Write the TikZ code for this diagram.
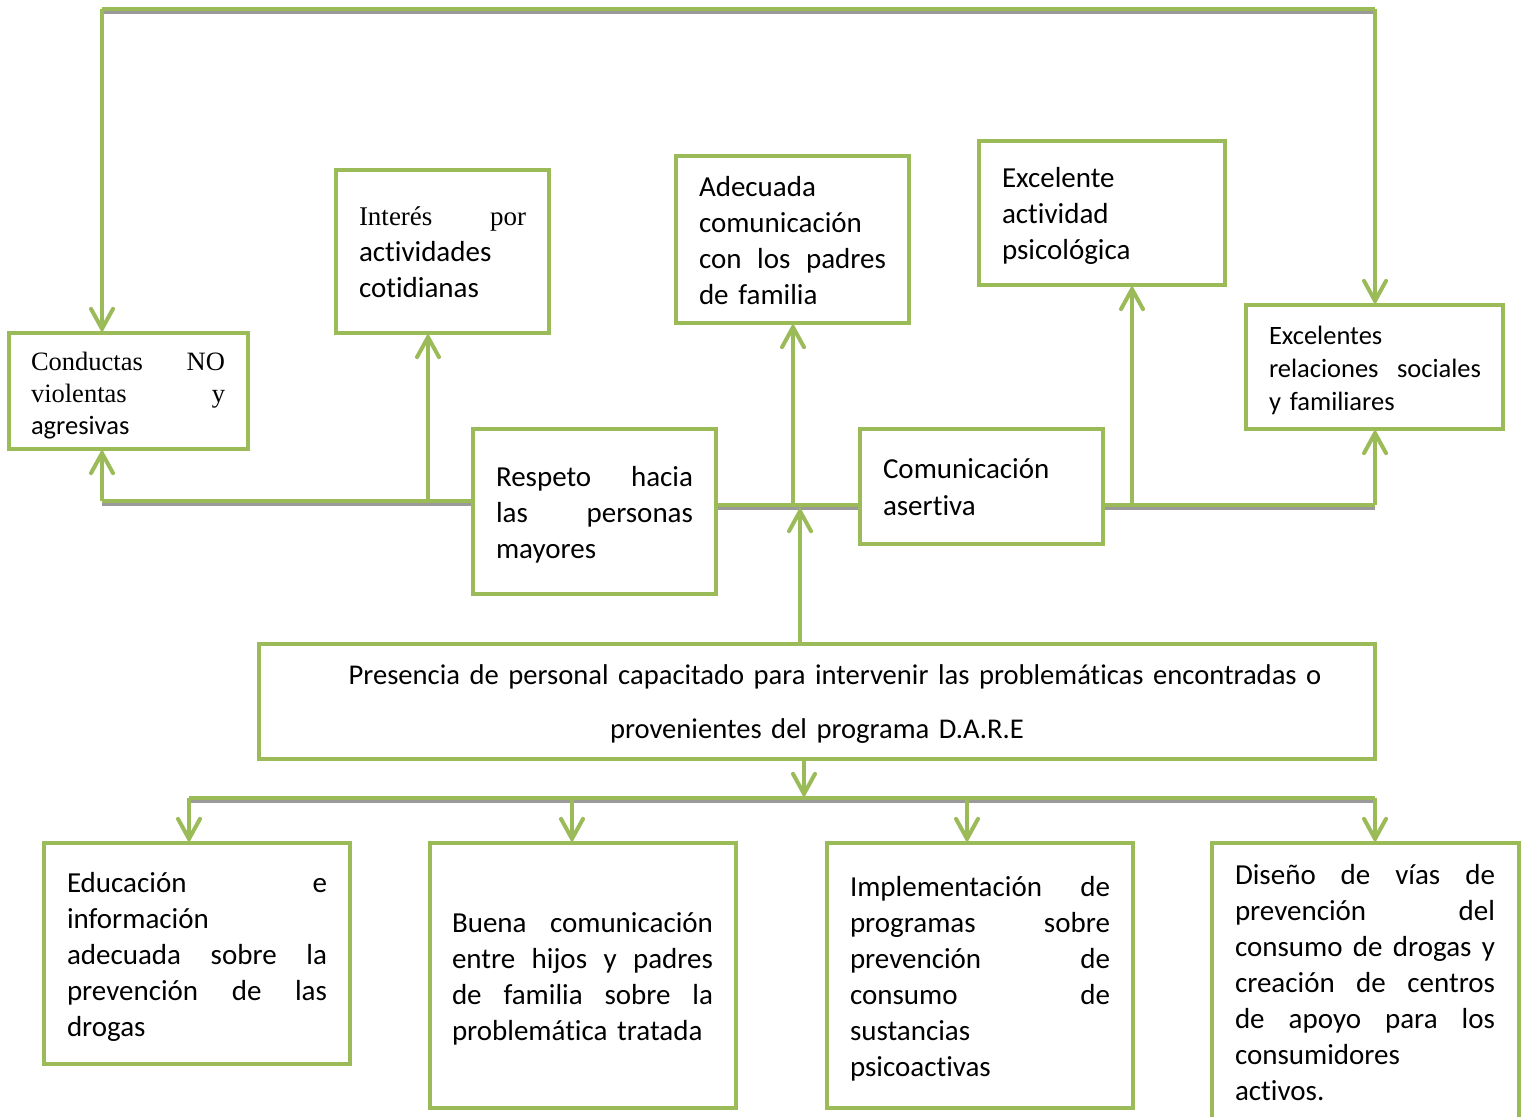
\documentclass[tikz,border=0pt]{standalone}
\usepackage{fontspec}
\setmainfont{Carlito}[RawFeature={-liga;-calt;-clig;-dlig}]
\newfontfamily\tnr{Liberation Serif}
\usetikzlibrary{arrows.meta}
\setlength{\parindent}{0pt}
\definecolor{lgreen}{HTML}{9BBB59}
\definecolor{shgray}{HTML}{9A9A9A}
\newcommand\fst{\rule{0pt}{24pt}}
\newcommand\tI{t\kern0pt i}
\tikzset{
  box/.style={draw=lgreen, line width=4pt, fill=white, rectangle, inner sep=0pt, outer sep=0pt, anchor=north west},
  txt/.style={anchor=north west, inner sep=0pt, outer sep=0pt, align=left, font=\fontsize{29}{36}\selectfont},
  conn/.style={draw=lgreen, line width=4pt},
  arr/.style={conn, -{Straight Barb[length=20pt, width=22pt, line cap=round]}},
  hline/.style={conn, preaction={draw=shgray, line width=4pt, transform canvas={yshift=-3pt}}},
}
\begin{document}
\begin{tikzpicture}[x=1pt, y=-1pt]
\useasboundingbox (0,0) rectangle (1525,1116);

% junction coordinates
\coordinate (topL) at (102,9);
\coordinate (topR) at (1375,9);
\coordinate (jL) at (102,501);
\coordinate (jI) at (428,501);
\coordinate (jM) at (793,505);
\coordinate (jP) at (800,507);
\coordinate (jE) at (1132,505);
\coordinate (jR) at (1375,505);
\coordinate (jB) at (804,798);
\coordinate (bL) at (189,798);
\coordinate (b2x) at (572,798);
\coordinate (b3x) at (967,798);
\coordinate (bR) at (1375,798);

% horizontal lines with shadow (drawn first)
\draw[hline] (topL) -- (topR);
\draw[hline] (jL) -- (jL -| 473,0);
\draw[hline] (716,505) -- (860,505);
\draw[hline] (1103,505) -- (jR);
\draw[hline] (bL) -- (bR);

% boxes
\node[box, minimum width=239pt, minimum height=116pt] (b1) at (9,333) {};
\node[box, minimum width=213pt, minimum height=163pt] (b2) at (336,170) {};
\node[box, minimum width=233pt, minimum height=167pt] (b3) at (676,156) {};
\node[box, minimum width=246pt, minimum height=144pt] (b4) at (979,141) {};
\node[box, minimum width=257pt, minimum height=124pt] (b5) at (1246,305) {};
\node[box, minimum width=243pt, minimum height=165pt] (b6) at (473,429) {};
\node[box, minimum width=243pt, minimum height=115pt] (b7) at (860,429) {};
\node[box, minimum width=1116pt, minimum height=115pt] (b8) at (259,644) {};
\node[box, minimum width=306pt, minimum height=221pt] (b9) at (44,843) {};
\node[box, minimum width=306pt, minimum height=265pt] (b10) at (430,843) {};
\node[box, minimum width=306pt, minimum height=265pt] (b11) at (827,843) {};
\node[box, minimum width=307pt, minimum height=300pt] (b12) at (1212,843) {};

% texts
\node[txt, text width=194pt, font=\fontsize{26.5}{32}\selectfont] (t1) at (31,346)
  {\fst{\tnr Conductas\hfill NO}\\{\tnr violentas\hfill y}\\agresivas};
\node[txt, text width=167pt] (t2) at (359,201)
  {\fst{\tnr\fontsize{27}{36}\selectfont Interés\hfill por}\\ac\tI vidades\\co\tI dianas};
\node[txt, text width=187pt] (t3) at (699,172)
  {\fst Adecuada\\comunicación\\con\hfill los\hfill padres\\de familia};
\node[txt, text width=200pt] (t4) at (1002,163)
  {\fst Excelente\\ac\tI vidad\\psicológica};
\node[txt, text width=212pt, font=\fontsize{26.5}{33}\selectfont] (t5) at (1269,320)
  {\fst Excelentes\\relaciones\hfill sociales\\y familiares};
\node[txt, text width=197pt] (t6) at (496,462)
  {\fst Respeto\hfill hacia\\las\hfill personas\\mayores};
\node[txt, text width=200pt, font=\fontsize{29}{37}\selectfont] (t7) at (883,454)
  {\fst Comunicación\\aser\tI va};
\node[txt, anchor=north, align=center, text width=1116pt, font=\fontsize{28.6}{54}\selectfont] (t8) at (817,660)
  {\fst\hspace*{36pt}Presencia de personal capacitado para intervenir las problemá\tI cas encontradas o\\provenientes del programa D.A.R.E};
\node[txt, text width=260pt] (t9) at (67,868)
  {\fst Educación\hfill e\\información\\adecuada\hfill sobre\hfill la\\prevención\hfill de\hfill las\\drogas};
\node[txt, text width=261pt] (t10) at (452,908)
  {\fst Buena\hfill comunicación\\entre\hfill hijos\hfill y\hfill padres\\de\hfill familia\hfill sobre\hfill la\\problemá\tI ca tratada};
\node[txt, text width=260pt] (t11) at (850,872)
  {\fst Implementación\hfill de\\programas\hfill sobre\\prevención\hfill de\\consumo\hfill de\\sustancias\\psicoac\tI vas};
\node[txt, text width=260pt] (t12) at (1235,860)
  {\fst Diseño\hfill de\hfill vías\hfill de\\prevención\hfill del\\consumo\hfill de\hfill drogas\hfill y\\creación\hfill de\hfill centros\\de\hfill apoyo\hfill para\hfill los\\consumidores\\ac\tI vos.};

% arrows
\draw[arr] (topL) -- (topL |- b1.north);
\draw[arr] (topR) -- (topR |- b5.north);
\draw[arr] (jL) -- (jL |- b1.south);
\draw[arr] (jI) -- (jI |- b2.south);
\draw[arr] (jM) -- (jM |- b3.south);
\draw[arr] (jP |- b8.north) -- (jP);
\draw[arr] (jE) -- (jE |- b4.south);
\draw[arr] (jR) -- (jR |- b5.south);
\draw[arr] (jB |- b8.south) -- (jB);
\draw[arr] (bL) -- (bL |- b9.north);
\draw[arr] (b2x) -- (b2x |- b10.north);
\draw[arr] (b3x) -- (b3x |- b11.north);
\draw[arr] (bR) -- (bR |- b12.north);
\end{tikzpicture}
\end{document}
